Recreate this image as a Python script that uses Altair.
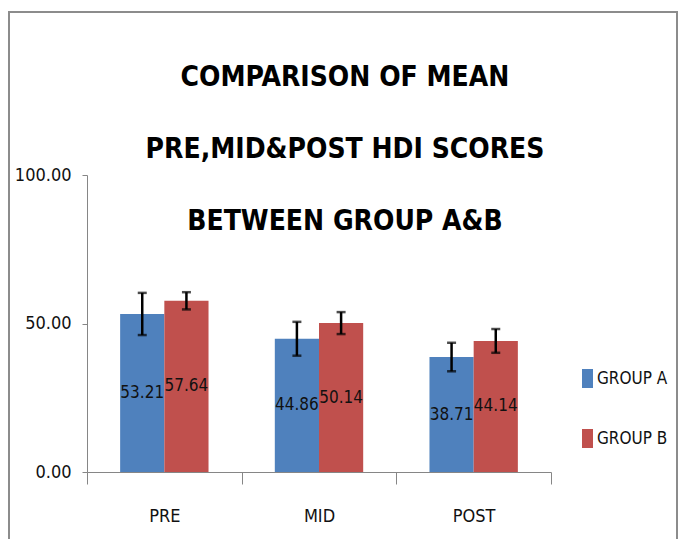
import altair as alt
import pandas as pd

phases = ["PRE", "MID", "POST"]
groups = ["GROUP A", "GROUP B"]
mean_a = [53.21, 44.86, 38.71]
mean_b = [57.64, 50.14, 44.14]
err_a = [7.1, 5.7, 4.8]
err_b = [2.9, 3.7, 4.0]
title_lines = ["COMPARISON OF MEAN", "PRE,MID&POST HDI SCORES", "BETWEEN GROUP A&B"]
y_ticks = [0, 50, 100]
colors = ["#4F81BD", "#C0504D"]

rows = []
for i, p in enumerate(phases):
    rows.append({"phase": p, "group": groups[0], "mean": mean_a[i], "err": err_a[i]})
    rows.append({"phase": p, "group": groups[1], "mean": mean_b[i], "err": err_b[i]})
df = pd.DataFrame(rows)
df["lo"] = df["mean"] - df["err"]
df["hi"] = df["mean"] + df["err"]
df["mid"] = df["mean"] / 2
df["label"] = df["mean"].map(lambda v: f"{v:.2f}")

FONT = "DejaVu Sans Condensed, Liberation Sans Narrow, sans-serif"
AXC = "#868686"
TXT = "#111111"

x = alt.X(
    "phase:N", sort=phases,
    scale=alt.Scale(paddingInner=0, paddingOuter=0),
    axis=alt.Axis(title=None, labelAngle=0, tickBand="extent", tickSize=12,
                  labelFontSize=18, labelFont=FONT, labelColor=TXT,
                  labelPadding=23, domainColor=AXC, tickColor=AXC),
)
xoff = alt.XOffset("group:N", sort=groups,
                   scale=alt.Scale(paddingOuter=0.75, paddingInner=0))
y_axis = alt.Axis(title=None, values=y_ticks, format=".2f", grid=False, tickSize=5,
                  labelPadding=11, labelFontSize=18, labelFont=FONT, labelColor=TXT,
                  domainColor=AXC, tickColor=AXC)
yscale = alt.Scale(domain=[0, 100], nice=False)

base = alt.Chart(df)

bars = base.mark_bar().encode(
    x=x, xOffset=xoff,
    y=alt.Y("mean:Q", scale=yscale, axis=y_axis),
    color=alt.Color("group:N", sort=groups,
                    scale=alt.Scale(domain=groups, range=colors),
                    legend=alt.Legend(title=None, orient="none", legendX=491, legendY=194,
                                      labelFont=FONT, labelFontSize=17, labelColor=TXT,
                                      symbolType="M-0.58,-1H0.58V1H-0.58Z", symbolSize=361,
                                      symbolStrokeWidth=0, labelOffset=0, rowPadding=41,
                                      padding=0)),
)

rules = base.mark_rule(color="black", strokeWidth=2.5).encode(
    x=x, xOffset=xoff, y="lo:Q", y2="hi:Q")
caps_hi = base.mark_tick(color="black", orient="horizontal", size=9, thickness=2.5).encode(
    x=x, xOffset=xoff, y="hi:Q")
caps_lo = base.mark_tick(color="black", orient="horizontal", size=9, thickness=2.5).encode(
    x=x, xOffset=xoff, y="lo:Q")
labels = base.mark_text(font=FONT, fontSize=17, baseline="middle", color=TXT).encode(
    x=x, xOffset=xoff, y="mid:Q", text="label:N")

title = alt.Chart(pd.DataFrame({"t": ["\n".join(title_lines)]})).mark_text(
    font=FONT, fontSize=28, fontWeight="bold", color="black", lineBreak="\n",
    lineHeight=72, align="center", baseline="middle").encode(
    x=alt.value(258), y=alt.value(-97), text="t:N")

frame = alt.Chart(pd.DataFrame({"f": [0]})).mark_rect(
    fillOpacity=0, stroke="#8c8c8c", strokeWidth=2).encode(
    x=alt.value(-78), x2=alt.value(590), y=alt.value(-163), y2=alt.value(420))

chart = alt.layer(frame, bars, rules, caps_hi, caps_lo, labels, title).properties(
    width=464, height=297,
    autosize=alt.AutoSizeParams(type="none"),
    padding={"left": 79, "top": 167, "right": 128, "bottom": 67},
).configure(background="white").configure_view(stroke=None)

chart.save("out.html", embed_options={"renderer": "svg", "actions": False})
